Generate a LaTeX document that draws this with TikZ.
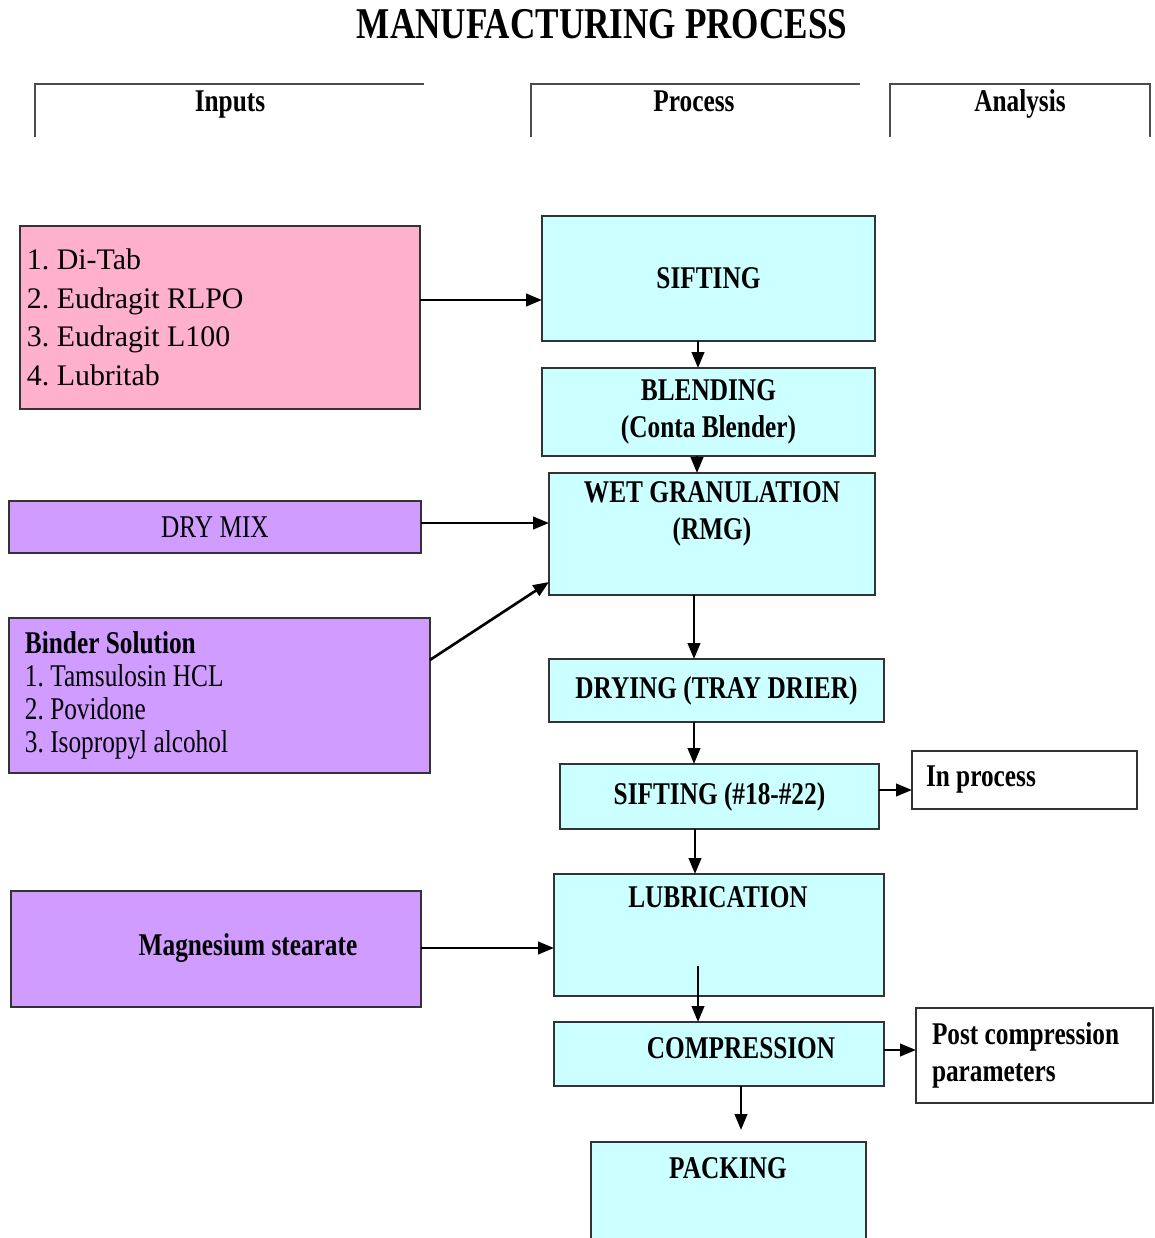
\documentclass[tikz,border=0pt]{standalone}
\usepackage{fontspec}
\setmainfont{Liberation Serif}[FakeStretch=0.8]
\newfontfamily\listfont{Liberation Serif}
\usetikzlibrary{arrows.meta, positioning}
\definecolor{procblue}{RGB}{204,255,255}
\definecolor{inpink}{RGB}{255,176,204}
\definecolor{inviolet}{RGB}{208,156,255}
\frenchspacing

\begin{document}
\begin{tikzpicture}[x=0.02cm, y=-0.02cm,
    box/.style={draw=black!80, line width=1pt, inner sep=0pt, outer sep=0pt, anchor=north west},
    procbox/.style={box, fill=procblue},
    pinkbox/.style={box, fill=inpink},
    violetbox/.style={box, fill=inviolet},
    notebox/.style={box, fill=white},
    lbl/.style={font=\bfseries\fontsize{18}{21}\selectfont, align=center},
    flow/.style={-{Triangle[length=9pt,width=7pt]}, line width=1.5pt},
    bracket/.style={draw=black!70, line width=1.2pt}]
    \useasboundingbox (0,0) rectangle (1155,1238);

    % Title and headers
    \node[font=\bfseries\fontsize{25}{30}\selectfont] (title) at (602,24) {MANUFACTURING PROCESS};
    \draw[bracket] (35,137) |- (424,84);
    \draw[bracket] (531,137) |- (860,84);
    \draw[bracket] (890,137) |- (1150,84) -- (1150,137);
    \node[lbl, anchor=base] (hin) at (230,111) {Inputs};
    \node[lbl, anchor=base] (hproc) at (694,111) {Process};
    \node[lbl, anchor=base] (hana) at (1020,111) {Analysis};

    % Inputs
    \node[pinkbox, minimum width=8cm, minimum height=3.66cm, inner xsep=0.14cm, text width=7.72cm,
          align=flush left, font=\listfont\fontsize{17}{22}\selectfont] (inlist) at (20,226)
          {1. Di-Tab\\2. Eudragit RLPO\\3. Eudragit L100\\4. Lubritab};
    \node[violetbox, minimum width=8.24cm, minimum height=1.04cm, font=\fontsize{18}{21}\selectfont]
          (drymix) at (9,501) {DRY MIX};
    \node[violetbox, minimum width=8.42cm, minimum height=3.1cm, inner xsep=0.32cm, text width=7.78cm,
          align=flush left, font=\fontsize{18}{18.7}\selectfont] (binder) at (9,618)
          {\textbf{Binder Solution}\\1. Tamsulosin HCL\\2. Povidone\\3. Isopropyl alcohol};
    \node[violetbox, minimum width=8.2cm, minimum height=2.32cm] (mgst) at (11,891) {};
    \node[lbl] (mgsttxt) at (248,948) {Magnesium stearate};

    % Process
    \node[procbox, lbl, minimum width=6.66cm, minimum height=2.5cm] (sift) at (542,216) {SIFTING};
    \node[procbox, lbl, minimum width=6.66cm, minimum height=1.76cm] (blend) at (542,368) {BLENDING\\(Conta Blender)};
    \node[procbox, minimum width=6.52cm, minimum height=2.44cm] (wet) at (549,473) {};
    \node[lbl] (wettxt) at (712,514) {WET GRANULATION\\(RMG)};
    \node[procbox, lbl, minimum width=6.7cm, minimum height=1.26cm] (dry) at (549,659) {DRYING (TRAY DRIER)};
    \node[procbox, lbl, minimum width=6.38cm, minimum height=1.3cm] (sieve) at (560,764) {SIFTING (\#18-\#22)};
    \node[procbox, minimum width=6.6cm, minimum height=2.44cm] (lub) at (554,874) {};
    \node[lbl] (lubtxt) at (718,897) {LUBRICATION};
    \node[procbox, minimum width=6.6cm, minimum height=1.28cm] (comp) at (554,1022) {};
    \node[lbl] (comptxt) at (741,1048) {COMPRESSION};
    \node[procbox, minimum width=5.5cm, minimum height=2.2cm] (pack) at (591,1142) {};
    \node[lbl] (packtxt) at (728,1168) {PACKING};

    % Analysis
    \node[notebox, lbl, align=flush left, minimum width=4.5cm, minimum height=1.16cm, inner xsep=0.28cm,
          text width=3.94cm] (inproc) at (912,751) {In process};
    \node[notebox, lbl, align=flush left, minimum width=4.74cm, minimum height=1.9cm, inner xsep=0.32cm,
          text width=4.1cm] (postc) at (916,1008) {Post compression\\parameters};

    % Arrows
    \coordinate (lubout) at (698,966);
    \coordinate (packin) at (741,1130);
    \draw[flow] (inlist.east |- 0,300) -- (sift.west |- 0,300);
    \draw[flow] (sift.south -| 698,0) -- (blend.north -| 698,0);
    \draw[flow] (blend.south -| 697,0) -- (wet.north -| 697,0);
    \draw[flow] (drymix.east |- 0,523) -- (wet.west |- 0,523);
    \draw[flow] (binder.east |- 0,660) -- (wet.west |- 0,582);
    \draw[flow] (wet.south -| 694,0) -- (dry.north -| 694,0);
    \draw[flow] (dry.south -| 694,0) -- (sieve.north -| 694,0);
    \draw[flow] (sieve.east |- 0,790) -- (inproc.west |- 0,790);
    \draw[flow] (sieve.south -| 695,0) -- (lub.north -| 695,0);
    \draw[flow] (mgst.east |- 0,948) -- (lub.west |- 0,948);
    \draw[flow] (lubout) -- (comp.north -| lubout);
    \draw[flow] (comp.east |- 0,1050) -- (postc.west |- 0,1050);
    \draw[flow] (comp.south -| packin) -- (packin);
\end{tikzpicture}
\end{document}
